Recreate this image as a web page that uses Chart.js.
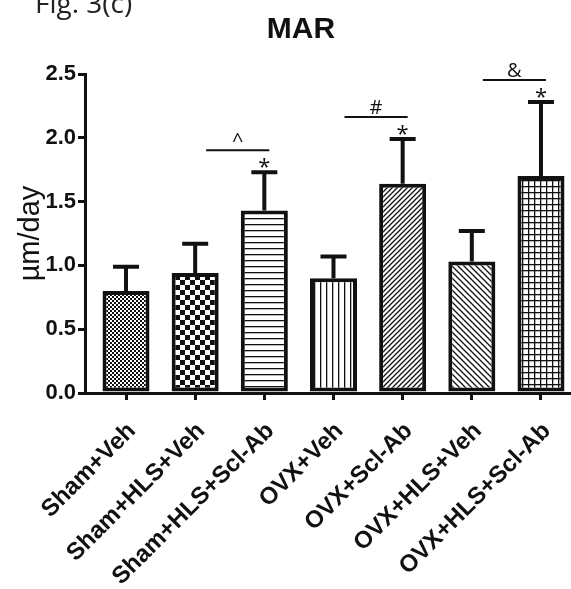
<!DOCTYPE html>
<html>
<head>
<meta charset="utf-8">
<script src="https://cdn.jsdelivr.net/npm/chart.js@4.4.0/dist/chart.umd.min.js"></script>
<style>
  html, body { margin: 0; padding: 0; background: #fff; overflow: hidden; }
</style>
</head>
<body>
<canvas id="marChart" width="571" height="589"></canvas>
<script>
// MAR by group, mean and SEM (µm/day)
const groups = ['Sham+Veh', 'Sham+HLS+Veh', 'Sham+HLS+Scl-Ab', 'OVX+Veh', 'OVX+Scl-Ab', 'OVX+HLS+Veh', 'OVX+HLS+Scl-Ab'];
const marMean = [0.80, 0.94, 1.43, 0.90, 1.64, 1.03, 1.70];
const marSem = [0.19, 0.23, 0.30, 0.17, 0.35, 0.24, 0.58];
const yTicks = [0, 0.5, 1.0, 1.5, 2.0, 2.5];
const stars = ['', '', '*', '', '*', '', '*'];
const brackets = [[1, 2, '^'], [3, 4, '#'], [5, 6, '&']];

const ink = '#111';
const arial = '"Liberation Sans", Arial, sans-serif';
const calibri = '"Open Sans", "Liberation Sans", sans-serif';

function makePattern(size, draw) {
    const c = document.createElement('canvas');
    c.width = size;
    c.height = size;
    const g = c.getContext('2d');
    g.fillStyle = '#fff';
    g.fillRect(0, 0, size, size);
    g.fillStyle = ink;
    g.strokeStyle = ink;
    draw(g, size);
    return g.createPattern(c, 'repeat');
}

function diagonal(g, s, up) {
    g.lineWidth = 1.3;
    g.beginPath();
    if (up) {
        g.moveTo(0, s); g.lineTo(s, 0);
        g.moveTo(-1, 1); g.lineTo(1, -1);
        g.moveTo(s - 1, s + 1); g.lineTo(s + 1, s - 1);
    } else {
        g.moveTo(0, 0); g.lineTo(s, s);
        g.moveTo(-1, s - 1); g.lineTo(1, s + 1);
        g.moveTo(s - 1, -1); g.lineTo(s + 1, 1);
    }
    g.stroke();
}

const patterns = [
    makePattern(4, (g) => { g.fillRect(0, 0, 2, 2); g.fillRect(2, 2, 2, 2); }),
    makePattern(10, (g) => { g.fillRect(0, 0, 5, 5); g.fillRect(5, 5, 5, 5); }),
    makePattern(6, (g, s) => { g.fillRect(0, 2, s, 1.3); }),
    makePattern(6, (g, s) => { g.fillRect(2, 0, 1.3, s); }),
    makePattern(5, (g, s) => diagonal(g, s, true)),
    makePattern(6, (g, s) => diagonal(g, s, false)),
    makePattern(6, (g, s) => { g.fillRect(0, 0, s, 1.3); g.fillRect(0, 0, 1.3, s); }),
];

const annotations = {
    id: 'annotations',
    afterDatasetsDraw(chart) {
        const { ctx, scales: { x, y } } = chart;
        ctx.save();
        ctx.strokeStyle = ink;
        ctx.fillStyle = ink;

        // upper error bars
        ctx.lineWidth = 4;
        marMean.forEach((m, i) => {
            const px = x.getPixelForValue(i);
            const top = y.getPixelForValue(m + marSem[i]);
            const base = y.getPixelForValue(m);
            ctx.beginPath();
            ctx.moveTo(px, base);
            ctx.lineTo(px, top);
            ctx.moveTo(px - 13, top);
            ctx.lineTo(px + 13, top);
            ctx.stroke();
        });

        // asterisks over the error bars
        ctx.font = '22px ' + calibri;
        ctx.textAlign = 'center';
        ctx.textBaseline = 'alphabetic';
        stars.forEach((s, i) => {
            if (!s) return;
            const top = y.getPixelForValue(marMean[i] + marSem[i]);
            ctx.fillText(s, x.getPixelForValue(i), top + 2);
        });

        // comparison lines with their marks
        ctx.lineWidth = 2;
        ctx.font = '20px ' + calibri;
        brackets.forEach(([a, b, mark]) => {
            const x1 = x.getPixelForValue(a) + 11;
            const x2 = x.getPixelForValue(b) + 5;
            const ly = y.getPixelForValue(marMean[b] + marSem[b]) - 22;
            ctx.beginPath();
            ctx.moveTo(x1, ly);
            ctx.lineTo(x2, ly);
            ctx.stroke();
            ctx.fillText(mark, (x1 + x2) / 2, ly - 3);
        });

        // chart title and figure panel label
        ctx.font = 'bold 30px ' + arial;
        ctx.fillText('MAR', 301, 38);
        ctx.textAlign = 'left';
        ctx.font = '28px ' + calibri;
        ctx.fillStyle = '#222';
        ctx.fillText('Fig. 3(c)', 35, 13);
        ctx.restore();
    }
};

const marChart = new Chart(document.getElementById('marChart'), {
    type: 'bar',
    data: {
        datasets: [{
            data: marMean.map((v, i) => ({ x: i, y: v })),
            backgroundColor: patterns,
            borderColor: ink,
            borderWidth: 4,
            borderSkipped: false,
            barPercentage: 0.68,
            categoryPercentage: 1.0,
        }]
    },
    options: {
        responsive: false,
        animation: false,
        layout: { padding: { top: 74, left: 0, right: 0, bottom: 0 } },
        plugins: {
            legend: { display: false },
            tooltip: { enabled: false },
            title: { display: false },
        },
        scales: {
            x: {
                type: 'linear',
                offset: false,
                min: -0.593,
                max: 6.434,
                afterBuildTicks: (s) => { s.ticks = groups.map((g, i) => ({ value: i })); },
                afterFit: (s) => {
                    s.height = 196;
                    s.paddingLeft = 0;
                    s.paddingRight = 0;
                },
                ticks: {
                    autoSkip: false,
                    minRotation: 45,
                    maxRotation: 45,
                    padding: 17,
                    labelOffset: 6,
                    color: ink,
                    font: { family: arial, size: 24, weight: 'bold' },
                    callback: (v) => groups[v],
                },
                grid: { offset: false, drawOnChartArea: false, drawTicks: true, tickLength: 7, color: ink, lineWidth: 3 },
                border: { color: ink, width: 3 },
            },
            y: {
                min: 0,
                max: 2.5,
                afterBuildTicks: (s) => { s.ticks = yTicks.map((v) => ({ value: v })); },
                afterFit: (s) => { s.width = 85; },
                ticks: {
                    padding: 2,
                    color: ink,
                    font: { family: arial, size: 22, weight: 'bold' },
                    callback: (v) => v.toFixed(1),
                },
                grid: { drawOnChartArea: false, drawTicks: true, tickLength: 7, color: ink, lineWidth: 3 },
                border: { color: ink, width: 3 },
                title: {
                    display: true,
                    text: 'µm/day',
                    color: ink,
                    font: { family: arial, size: 29 },
                    padding: { top: 14, bottom: 0 },
                },
            },
        },
    },
    plugins: [annotations],
});
</script>
</body>
</html>
